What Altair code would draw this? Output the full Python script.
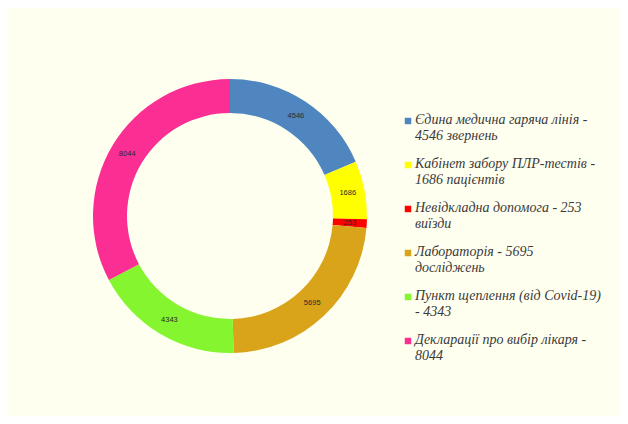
import altair as alt
import pandas as pd

categories = [
    "Єдина медична гаряча лінія",
    "Кабінет забору ПЛР-тестів",
    "Невідкладна допомога",
    "Лабораторія",
    "Пункт щеплення (від Covid-19)",
    "Декларації про вибір лікаря",
]
values = [4546, 1686, 253, 5695, 4343, 8044]
legend_labels = [
    "Єдина медична гаряча лінія -\n4546 звернень",
    "Кабінет забору ПЛР-тестів -\n1686 пацієнтів",
    "Невідкладна допомога - 253\nвиїзди",
    "Лабораторія - 5695\nдосліджень",
    "Пункт щеплення (від Covid-19)\n- 4343",
    "Декларації про вибір лікаря -\n8044",
]
colors = ["#4F86C0", "#FFFF00", "#FF0000", "#D9A31A", "#84F52E", "#FA2E93"]

df = pd.DataFrame({
    "cat": categories,
    "value": values,
    "label": legend_labels,
    "order": list(range(len(categories))),
})

color = alt.Color("cat:N", scale=alt.Scale(domain=categories, range=colors), legend=None)
base = alt.Chart(df)

cx, cy = 222, 208

arcs = base.mark_arc(outerRadius=137, innerRadius=103, x=cx, y=cy).encode(
    theta=alt.Theta("value:Q", stack=True),
    order=alt.Order("order:Q"),
    color=color,
)

vals = base.mark_text(radius=120, x=cx, y=cy, fontSize=7.5, font="Liberation Sans", color="#2a2a2a").encode(
    theta=alt.Theta("value:Q", stack=True),
    order=alt.Order("order:Q"),
    text=alt.Text("value:Q"),
)

yscale = alt.Scale(type="point", domain=categories, range=[113, 333], padding=0)

leg_sq = base.mark_square(size=42, opacity=1).encode(
    x=alt.value(400),
    y=alt.Y("cat:N", scale=yscale, axis=None),
    color=color,
)

leg_txt = base.mark_text(
    align="left", baseline="top", dy=-8, lineBreak="\n", lineHeight=16,
    font="Liberation Serif", fontStyle="italic", fontSize=14, color="#3a3a3a",
).encode(
    x=alt.value(407),
    y=alt.Y("cat:N", scale=yscale, axis=None),
    text="label:N",
)

chart = alt.layer(arcs, vals, leg_sq, leg_txt).properties(
    width=612, height=408, autosize="none", padding=0,
).configure(background="#FFFFF0").configure_view(stroke=None)

chart.save("out.html", embed_options={"renderer": "svg", "actions": False})
